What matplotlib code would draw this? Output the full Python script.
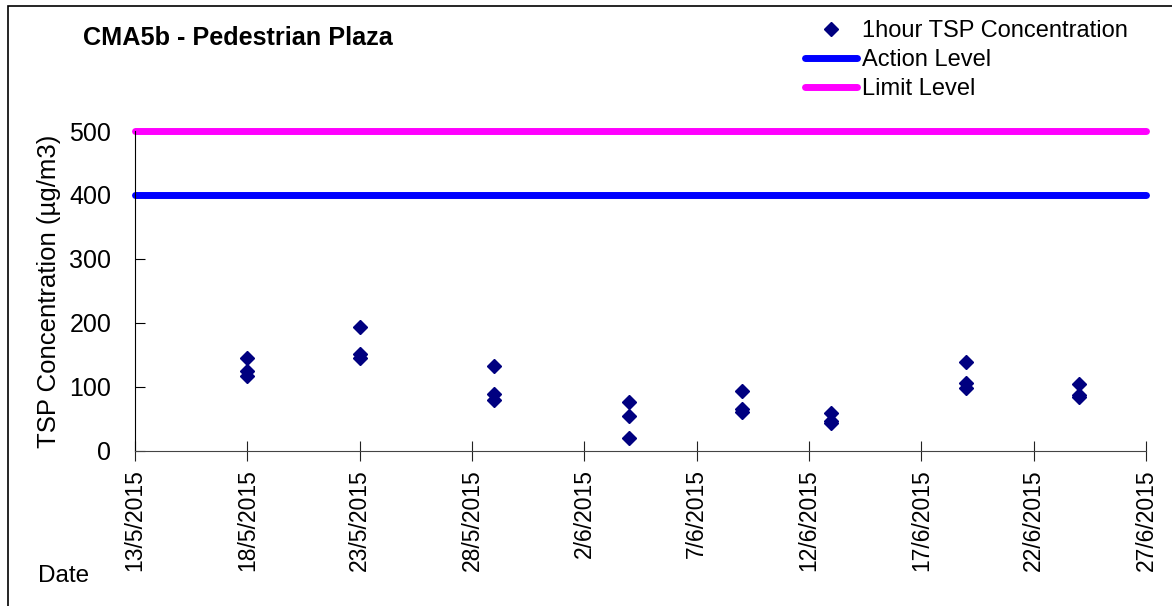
import numpy as np
import pandas as pd
import matplotlib
matplotlib.use("Agg")
import matplotlib.pyplot as plt
from matplotlib.patches import Rectangle

plt.rcParams['font.family'] = ['Liberation Sans', 'DejaVu Sans']

# sampling days and 1-hour TSP results (3 per day)
sample_days = ["2015-05-18", "2015-05-23", "2015-05-29", "2015-06-04",
               "2015-06-09", "2015-06-13", "2015-06-19", "2015-06-24"]
tsp_1 = [145, 193, 133, 76, 93, 59, 139, 105]
tsp_2 = [125, 151, 89, 54, 66, 47, 107, 88]
tsp_3 = [117, 146, 79, 20, 61, 44, 99, 85]

action_level = 400
limit_level = 500

x_start = "2015-05-13"
x_end = "2015-06-27"

days = pd.to_datetime(sample_days)
dates = np.concatenate([days, days, days])
values = np.concatenate([tsp_1, tsp_2, tsp_3])

fig = plt.figure(figsize=(11.72, 6.06), dpi=100)
ax = fig.add_axes([135/1172, 155/606, 1011/1172, 320/606])

xlim = [pd.Timestamp(x_start), pd.Timestamp(x_end)]
ax.plot(dates, values, linestyle="none", marker="D", markersize=7,
        color="#000080", label="1hour TSP Concentration", zorder=3)
ax.plot(xlim, [action_level]*2, color="#0000ff", lw=5, solid_capstyle="round",
        label="Action Level", clip_on=False)
ax.plot(xlim, [limit_level]*2, color="#ff00ff", lw=5, solid_capstyle="round",
        label="Limit Level", clip_on=False)

ax.set_xlim(xlim)
ax.set_ylim(0, 500)
ax.set_yticks(range(0, 501, 100))
ticks = pd.date_range(x_start, x_end, freq="5D")
ax.set_xticks(ticks)
ax.set_xticklabels([f"{d.day}/{d.month}/{d.year}" for d in ticks], rotation=90)

ax.spines["top"].set_visible(False)
ax.spines["right"].set_visible(False)
ax.spines["bottom"].set_color("#444444")
ax.tick_params(axis="x", direction="inout", length=14, color="#222222",
               labelsize=16.5, pad=6)
ax.tick_params(axis="y", direction="in", length=7, labelsize=18, pad=17)

ax.set_ylabel("TSP Concentration (\u00b5g/m3)", fontsize=18.5, labelpad=6)

fig.text(83/1172, 1 - 38/606, "CMA5b - Pedestrian Plaza", fontsize=18.2,
         fontweight="bold", va="center", ha="left")
fig.text(38/1172, 1 - 576/606, "Date", fontsize=17.5, va="center", ha="left")

leg = ax.legend(loc="upper left", bbox_to_anchor=(805/1172, 1 - 20/606),
                bbox_transform=fig.transFigure, frameon=False, fontsize=17,
                handlelength=2.2, handletextpad=0.2, labelspacing=0.3,
                borderpad=0, borderaxespad=0)
for h in leg.get_lines():
    h.set_solid_capstyle("round")

fig.patches.append(Rectangle((8/1172, -0.1), 1.2, 1.1 - 6/606, fill=False,
                             edgecolor="black", lw=1.2,
                             transform=fig.transFigure, figure=fig))

fig.savefig("out.png", dpi=100)
